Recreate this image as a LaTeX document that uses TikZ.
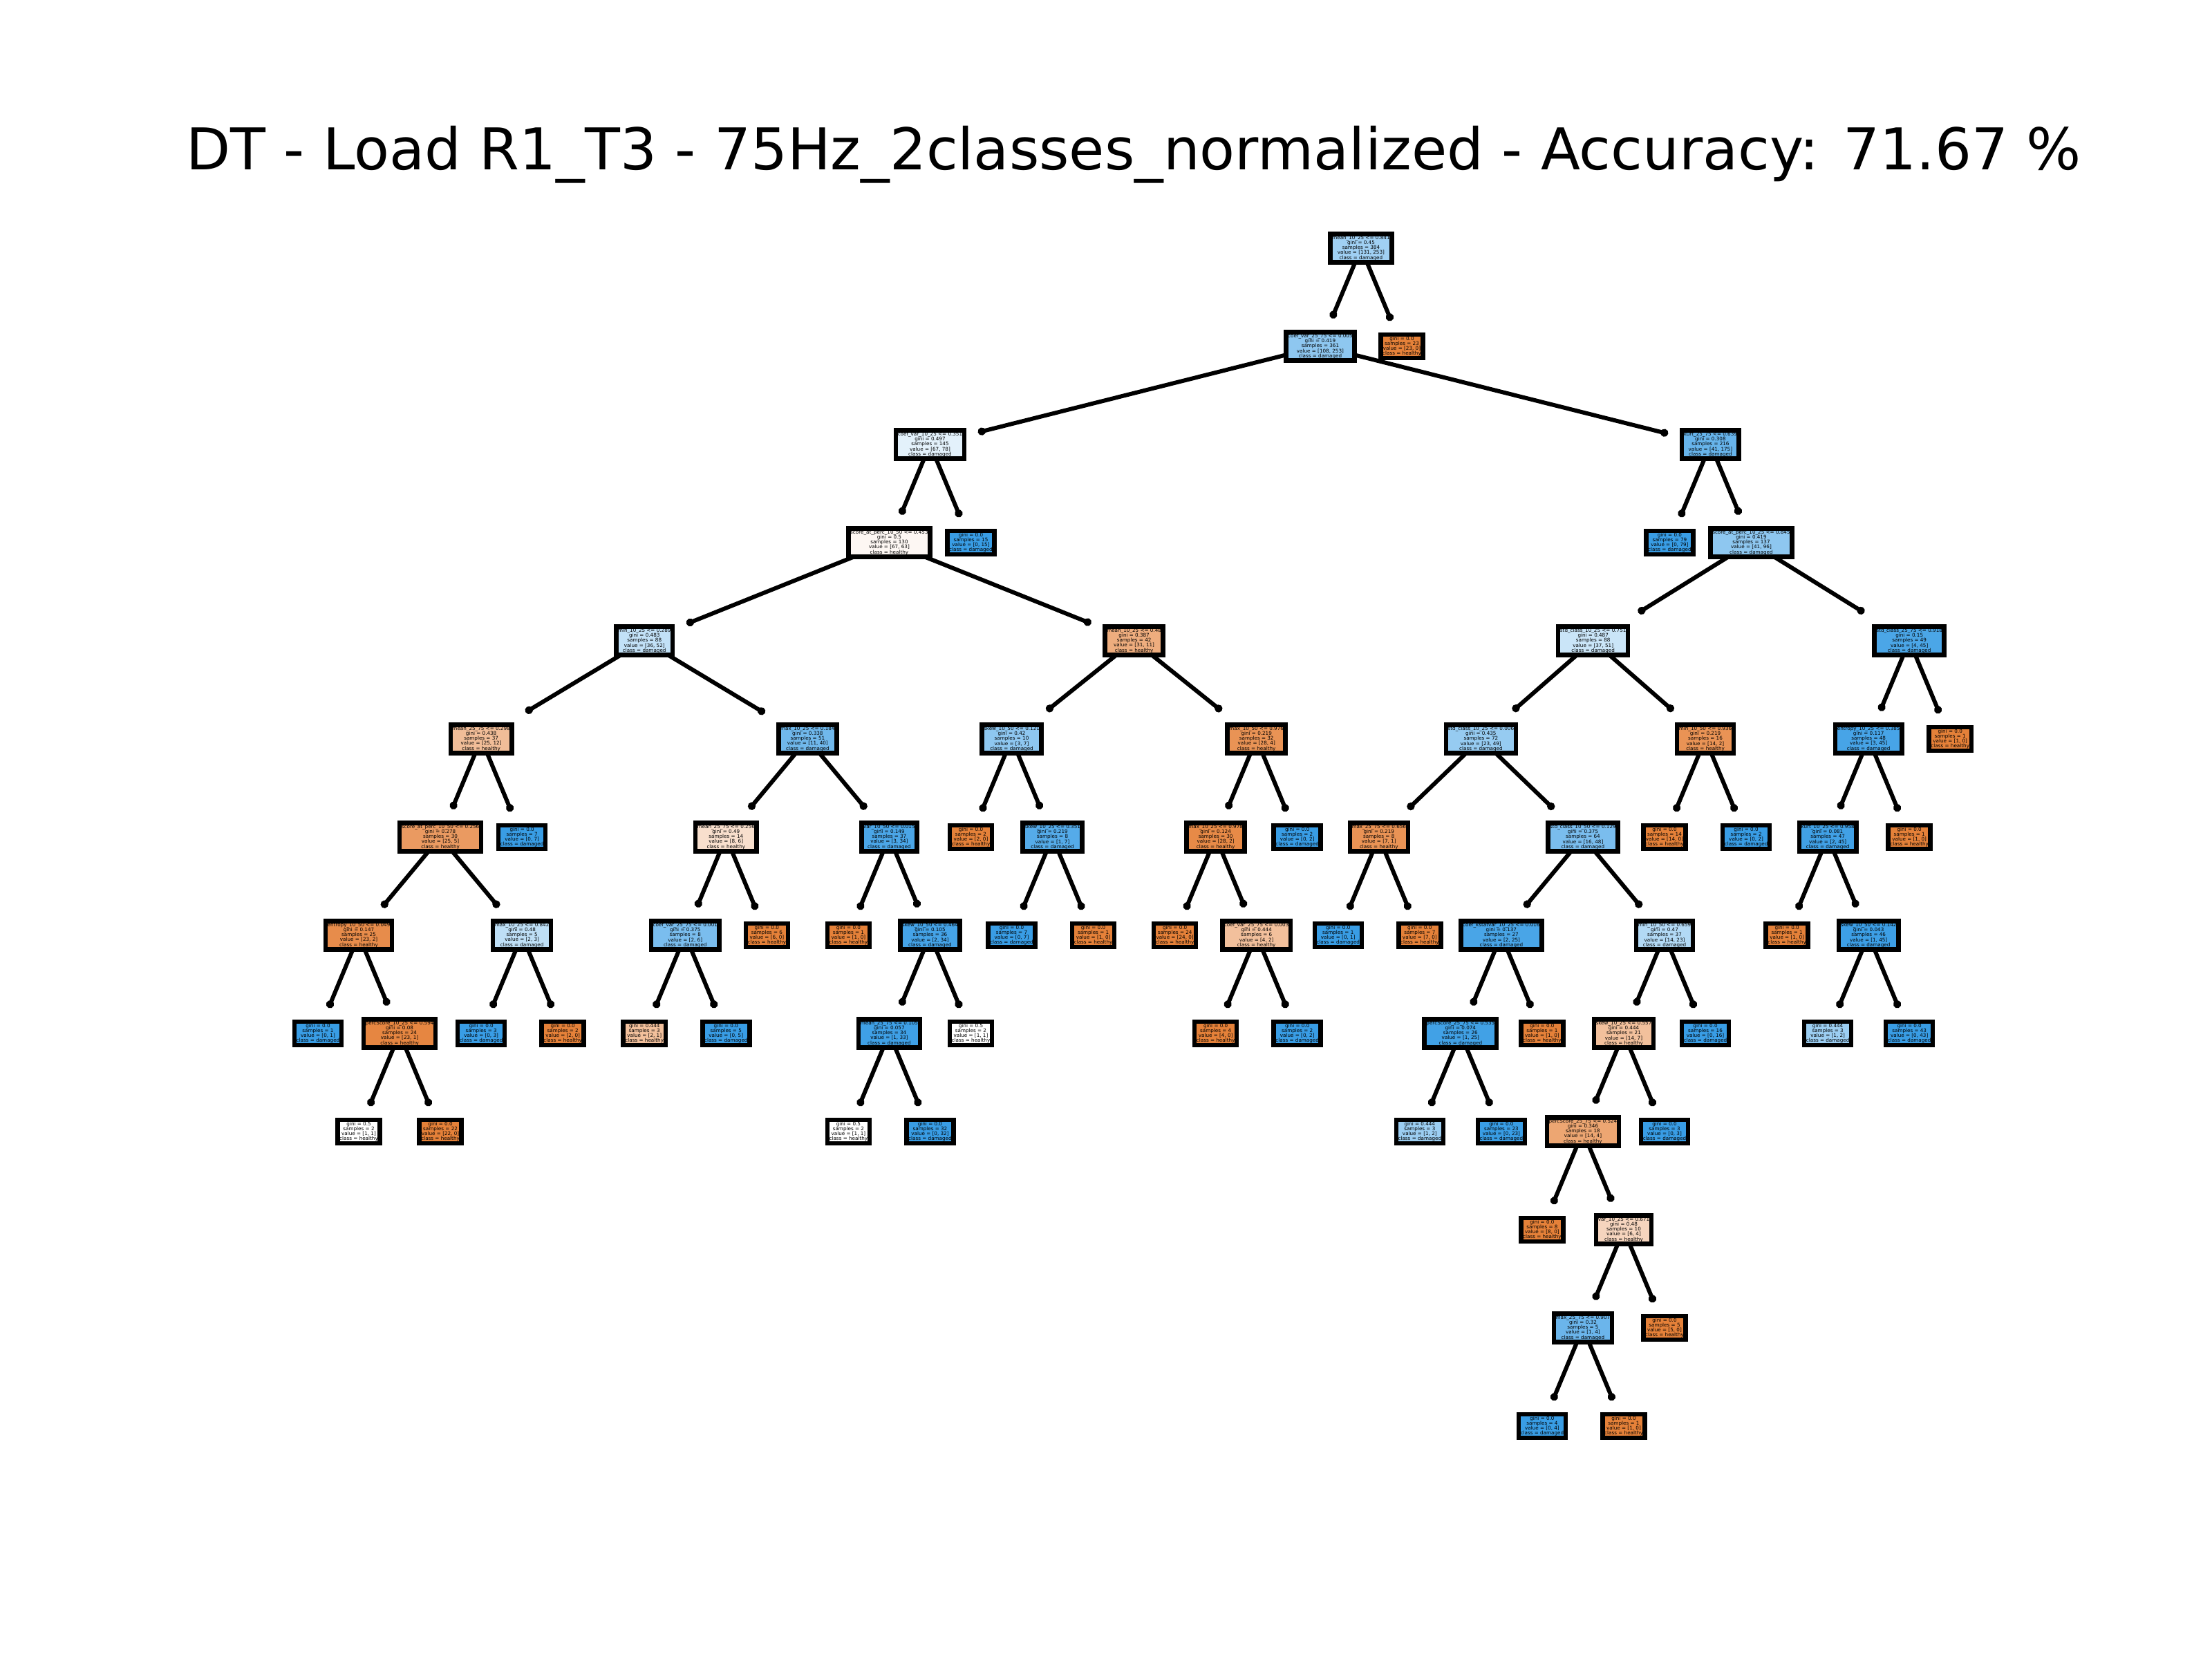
\documentclass[tikz,border=0pt]{standalone}
\usepackage{fontspec}
\newfontfamily\dejavu{DejaVu Sans}
\usetikzlibrary{arrows.meta}
\pgfdeclarelayer{bg}
\pgfsetlayers{bg,main}
\definecolor{cO}{RGB}{229,129,57}
\definecolor{cB}{RGB}{57,157,229}
\tikzset{
 dt/.style={draw=black, line width=0.065cm, inner xsep=0.0275cm, inner ysep=0.03cm, outer sep=0.2cm, align=center, text=black, font={\dejavu\fontsize{2.05pt}{2.01pt}\selectfont\lineskiplimit=-5pt\relax}},
 edge/.style={line width=0.06cm, -{Circle[length=0.11cm]}},
 ttl/.style={font={\dejavu\fontsize{23.7pt}{28pt}\selectfont}, anchor=base, inner sep=0pt},
}
\begin{document}
\begin{tikzpicture}
\useasboundingbox (0,0) rectangle (32,24);
\begin{pgfonlayer}{bg}
\fill[white] (0,0) rectangle (32,24);
\end{pgfonlayer}
\node[ttl] (title) at (16.40,21.54) {DT - Load R1\_T3 - 75Hz\_2classes\_normalized - Accuracy: 71.67 \%};
\begin{scope}[x=0.5903cm, y=-1.42cm, shift={(4.6cm,20.41cm)}]
% level 0-1
\node[dt, fill=cB!48] (root) at (25.5625,0) {mean\_10\_25 <= 0.841\\gini = 0.45\\samples = 384\\value = [131, 253]\\class = damaged};
\node[dt, fill=cB!57] (A) at (24.5625,1) {coef\_var\_25\_75 <= 0.005\\gini = 0.419\\samples = 361\\value = [108, 253]\\class = damaged};
\node[dt, fill=cO] (B) at (26.5625,1) {gini = 0.0\\samples = 23\\value = [23, 0]\\class = healthy};
% level 2
\node[dt, fill=cB!14] (C) at (15,2) {coef\_var\_10\_25 <= 0.351\\gini = 0.497\\samples = 145\\value = [67, 78]\\class = damaged};
\node[dt, fill=cB!77] (D) at (34.125,2) {kurt\_25\_75 <= 0.639\\gini = 0.308\\samples = 216\\value = [41, 175]\\class = damaged};
% level 3
\node[dt, fill=cO!6] (E) at (14,3) {score\_at\_perc\_10\_50 <= 0.453\\gini = 0.5\\samples = 130\\value = [67, 63]\\class = healthy};
\node[dt, fill=cB] (F) at (16,3) {gini = 0.0\\samples = 15\\value = [0, 15]\\class = damaged};
\node[dt, fill=cB] (G) at (33.125,3) {gini = 0.0\\samples = 79\\value = [0, 79]\\class = damaged};
\node[dt, fill=cB!57] (H) at (35.125,3) {score\_at\_perc\_10\_25 <= 0.845\\gini = 0.419\\samples = 137\\value = [41, 96]\\class = damaged};
% level 4
\node[dt, fill=cB!31] (I) at (8,4) {min\_10\_25 <= 0.289\\gini = 0.483\\samples = 88\\value = [36, 52]\\class = damaged};
\node[dt, fill=cO!65] (J) at (20,4) {mean\_10\_25 <= 0.48\\gini = 0.387\\samples = 42\\value = [31, 11]\\class = healthy};
\node[dt, fill=cB!27] (K) at (31.25,4) {std\_class\_10\_25 <= 0.751\\gini = 0.487\\samples = 88\\value = [37, 51]\\class = damaged};
\node[dt, fill=cB!91] (L) at (39,4) {std\_class\_25\_75 <= 0.918\\gini = 0.15\\samples = 49\\value = [4, 45]\\class = damaged};
% level 5
\node[dt, fill=cO!52] (M) at (4,5) {mean\_25\_75 <= 0.298\\gini = 0.438\\samples = 37\\value = [25, 12]\\class = healthy};
\node[dt, fill=cB!72] (N) at (12,5) {max\_10\_25 <= 0.184\\gini = 0.338\\samples = 51\\value = [11, 40]\\class = damaged};
\node[dt, fill=cB!57] (O) at (17,5) {skew\_10\_50 <= 0.121\\gini = 0.42\\samples = 10\\value = [3, 7]\\class = damaged};
\node[dt, fill=cO!86] (P) at (23,5) {max\_10\_50 <= 0.976\\gini = 0.219\\samples = 32\\value = [28, 4]\\class = healthy};
\node[dt, fill=cB!53] (Q) at (28.5,5) {std\_class\_10\_25 <= 0.006\\gini = 0.435\\samples = 72\\value = [23, 49]\\class = damaged};
\node[dt, fill=cO!86] (R) at (34,5) {min\_10\_50 <= 0.936\\gini = 0.219\\samples = 16\\value = [14, 2]\\class = healthy};
\node[dt, fill=cB!93] (S) at (38,5) {entropy\_10\_25 <= 0.385\\gini = 0.117\\samples = 48\\value = [3, 45]\\class = damaged};
\node[dt, fill=cO] (T) at (40,5) {gini = 0.0\\samples = 1\\value = [1, 0]\\class = healthy};
% level 6
\node[dt, fill=cO!80] (U) at (3,6) {score\_at\_perc\_10\_50 <= 0.256\\gini = 0.278\\samples = 30\\value = [25, 5]\\class = healthy};
\node[dt, fill=cB] (V) at (5,6) {gini = 0.0\\samples = 7\\value = [0, 7]\\class = damaged};
\node[dt, fill=cO!25] (W) at (10,6) {mean\_25\_75 <= 0.256\\gini = 0.49\\samples = 14\\value = [8, 6]\\class = healthy};
\node[dt, fill=cB!91] (X) at (14,6) {var\_10\_50 <= 0.015\\gini = 0.149\\samples = 37\\value = [3, 34]\\class = damaged};
\node[dt, fill=cO] (Y) at (16,6) {gini = 0.0\\samples = 2\\value = [2, 0]\\class = healthy};
\node[dt, fill=cB!86] (Z) at (18,6) {skew\_10\_25 <= 0.351\\gini = 0.219\\samples = 8\\value = [1, 7]\\class = damaged};
\node[dt, fill=cO!93] (AA) at (22,6) {max\_10\_25 <= 0.978\\gini = 0.124\\samples = 30\\value = [28, 2]\\class = healthy};
\node[dt, fill=cB] (AB) at (24,6) {gini = 0.0\\samples = 2\\value = [0, 2]\\class = damaged};
\node[dt, fill=cO!86] (AC) at (26,6) {max\_25\_75 <= 0.656\\gini = 0.219\\samples = 8\\value = [7, 1]\\class = healthy};
\node[dt, fill=cB!67] (AD) at (31,6) {std\_class\_10\_50 <= 0.129\\gini = 0.375\\samples = 64\\value = [16, 48]\\class = damaged};
\node[dt, fill=cO] (AE) at (33,6) {gini = 0.0\\samples = 14\\value = [14, 0]\\class = healthy};
\node[dt, fill=cB] (AF) at (35,6) {gini = 0.0\\samples = 2\\value = [0, 2]\\class = damaged};
\node[dt, fill=cB!96] (AG) at (37,6) {kurt\_10\_25 <= 0.958\\gini = 0.081\\samples = 47\\value = [2, 45]\\class = damaged};
\node[dt, fill=cO] (AH) at (39,6) {gini = 0.0\\samples = 1\\value = [1, 0]\\class = healthy};
% level 7
\node[dt, fill=cO!91] (AI) at (1,7) {entropy\_10\_50 <= 0.049\\gini = 0.147\\samples = 25\\value = [23, 2]\\class = healthy};
\node[dt, fill=cB!33] (AJ) at (5,7) {max\_10\_25 <= 0.842\\gini = 0.48\\samples = 5\\value = [2, 3]\\class = damaged};
\node[dt, fill=cB!67] (AK) at (9,7) {coef\_var\_25\_75 <= 0.001\\gini = 0.375\\samples = 8\\value = [2, 6]\\class = damaged};
\node[dt, fill=cO] (AL) at (11,7) {gini = 0.0\\samples = 6\\value = [6, 0]\\class = healthy};
\node[dt, fill=cO] (AM) at (13,7) {gini = 0.0\\samples = 1\\value = [1, 0]\\class = healthy};
\node[dt, fill=cB!94] (AN) at (15,7) {skew\_10\_50 <= 0.464\\gini = 0.105\\samples = 36\\value = [2, 34]\\class = damaged};
\node[dt, fill=cB] (AO) at (17,7) {gini = 0.0\\samples = 7\\value = [0, 7]\\class = damaged};
\node[dt, fill=cO] (AP) at (19,7) {gini = 0.0\\samples = 1\\value = [1, 0]\\class = healthy};
\node[dt, fill=cO] (AQ) at (21,7) {gini = 0.0\\samples = 24\\value = [24, 0]\\class = healthy};
\node[dt, fill=cO!50] (AR) at (23,7) {coef\_var\_25\_75 <= 0.003\\gini = 0.444\\samples = 6\\value = [4, 2]\\class = healthy};
\node[dt, fill=cB] (AS) at (25,7) {gini = 0.0\\samples = 1\\value = [0, 1]\\class = damaged};
\node[dt, fill=cO] (AT) at (27,7) {gini = 0.0\\samples = 7\\value = [7, 0]\\class = healthy};
\node[dt, fill=cB!92] (AU) at (29,7) {coef\_kstatvar\_10\_25 <= 0.016\\gini = 0.137\\samples = 27\\value = [2, 25]\\class = damaged};
\node[dt, fill=cB!39] (AV) at (33,7) {min\_10\_50 <= 0.659\\gini = 0.47\\samples = 37\\value = [14, 23]\\class = damaged};
\node[dt, fill=cO] (AW) at (36,7) {gini = 0.0\\samples = 1\\value = [1, 0]\\class = healthy};
\node[dt, fill=cB!98] (AX) at (38,7) {skew\_10\_50 <= 0.142\\gini = 0.043\\samples = 46\\value = [1, 45]\\class = damaged};
% level 8
\node[dt, fill=cB] (AY) at (0,8) {gini = 0.0\\samples = 1\\value = [0, 1]\\class = damaged};
\node[dt, fill=cO!96] (AZ) at (2,8) {percScore\_10\_25 <= 0.594\\gini = 0.08\\samples = 24\\value = [23, 1]\\class = healthy};
\node[dt, fill=cB] (BA) at (4,8) {gini = 0.0\\samples = 3\\value = [0, 3]\\class = damaged};
\node[dt, fill=cO] (BB) at (6,8) {gini = 0.0\\samples = 2\\value = [2, 0]\\class = healthy};
\node[dt, fill=cO!50] (BC) at (8,8) {gini = 0.444\\samples = 3\\value = [2, 1]\\class = healthy};
\node[dt, fill=cB] (BD) at (10,8) {gini = 0.0\\samples = 5\\value = [0, 5]\\class = damaged};
\node[dt, fill=cB!97] (BE) at (14,8) {mean\_25\_75 <= 0.105\\gini = 0.057\\samples = 34\\value = [1, 33]\\class = damaged};
\node[dt, fill=white] (BF) at (16,8) {gini = 0.5\\samples = 2\\value = [1, 1]\\class = healthy};
\node[dt, fill=cO] (BG) at (22,8) {gini = 0.0\\samples = 4\\value = [4, 0]\\class = healthy};
\node[dt, fill=cB] (BH) at (24,8) {gini = 0.0\\samples = 2\\value = [0, 2]\\class = damaged};
\node[dt, fill=cB!96] (BI) at (28,8) {percScore\_25\_75 <= 0.535\\gini = 0.074\\samples = 26\\value = [1, 25]\\class = damaged};
\node[dt, fill=cO] (BJ) at (30,8) {gini = 0.0\\samples = 1\\value = [1, 0]\\class = healthy};
\node[dt, fill=cO!50] (BK) at (32,8) {skew\_10\_25 <= 0.557\\gini = 0.444\\samples = 21\\value = [14, 7]\\class = healthy};
\node[dt, fill=cB] (BL) at (34,8) {gini = 0.0\\samples = 16\\value = [0, 16]\\class = damaged};
\node[dt, fill=cB!50] (BM) at (37,8) {gini = 0.444\\samples = 3\\value = [1, 2]\\class = damaged};
\node[dt, fill=cB] (BN) at (39,8) {gini = 0.0\\samples = 43\\value = [0, 43]\\class = damaged};
% level 9
\node[dt, fill=white] (BO) at (1,9) {gini = 0.5\\samples = 2\\value = [1, 1]\\class = healthy};
\node[dt, fill=cO] (BP) at (3,9) {gini = 0.0\\samples = 22\\value = [22, 0]\\class = healthy};
\node[dt, fill=white] (BQ) at (13,9) {gini = 0.5\\samples = 2\\value = [1, 1]\\class = healthy};
\node[dt, fill=cB] (BR) at (15,9) {gini = 0.0\\samples = 32\\value = [0, 32]\\class = damaged};
\node[dt, fill=cB!50] (BS) at (27,9) {gini = 0.444\\samples = 3\\value = [1, 2]\\class = damaged};
\node[dt, fill=cB] (BT) at (29,9) {gini = 0.0\\samples = 23\\value = [0, 23]\\class = damaged};
\node[dt, fill=cO!71] (BU) at (31,9) {percScore\_25\_75 <= 0.524\\gini = 0.346\\samples = 18\\value = [14, 4]\\class = healthy};
\node[dt, fill=cB] (BV) at (33,9) {gini = 0.0\\samples = 3\\value = [0, 3]\\class = damaged};
% level 10-12
\node[dt, fill=cO] (BW) at (30,10) {gini = 0.0\\samples = 8\\value = [8, 0]\\class = healthy};
\node[dt, fill=cO!33] (BX) at (32,10) {var\_10\_25 <= 0.671\\gini = 0.48\\samples = 10\\value = [6, 4]\\class = healthy};
\node[dt, fill=cB!75] (BY) at (31,11) {max\_25\_75 <= 0.907\\gini = 0.32\\samples = 5\\value = [1, 4]\\class = damaged};
\node[dt, fill=cO] (BZ) at (33,11) {gini = 0.0\\samples = 5\\value = [5, 0]\\class = healthy};
\node[dt, fill=cB] (CA) at (30,12) {gini = 0.0\\samples = 4\\value = [0, 4]\\class = damaged};
\node[dt, fill=cO] (CB) at (32,12) {gini = 0.0\\samples = 1\\value = [1, 0]\\class = healthy};
\end{scope}
\begin{pgfonlayer}{bg}
\foreach \p/\c in {root/A, root/B, A/C, A/D, C/E, C/F, D/G, D/H, E/I, E/J, H/K, H/L, I/M, I/N, J/O, J/P, K/Q, K/R, L/S, L/T, M/U, M/V, N/W, N/X, O/Y, O/Z, P/AA, P/AB, Q/AC, Q/AD, R/AE, R/AF, S/AG, S/AH, U/AI, U/AJ, W/AK, W/AL, X/AM, X/AN, Z/AO, Z/AP, AA/AQ, AA/AR, AC/AS, AC/AT, AD/AU, AD/AV, AG/AW, AG/AX, AI/AY, AI/AZ, AJ/BA, AJ/BB, AK/BC, AK/BD, AN/BE, AN/BF, AR/BG, AR/BH, AU/BI, AU/BJ, AV/BK, AV/BL, AX/BM, AX/BN, AZ/BO, AZ/BP, BE/BQ, BE/BR, BI/BS, BI/BT, BK/BU, BK/BV, BU/BW, BU/BX, BX/BY, BX/BZ, BY/CA, BY/CB}
  \draw[edge] (\p.center) -- (\c);
\end{pgfonlayer}
\end{tikzpicture}
\end{document}
